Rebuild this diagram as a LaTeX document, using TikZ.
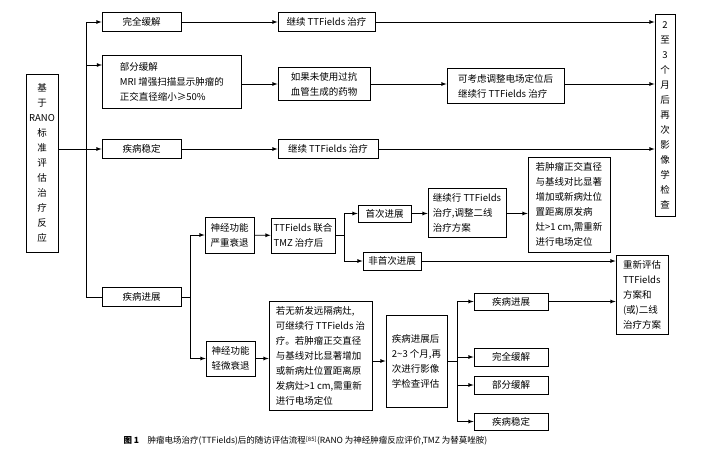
\documentclass[tikz,border=0pt]{standalone}
\usepackage{fontspec}
\setmainfont{Noto Sans CJK SC}
\begin{document}
\begin{tikzpicture}[x=1pt,y=-1pt,font=\fontsize{9.5}{15}\selectfont,
  box/.style={draw,thick,inner sep=2pt,align=left},
  arr/.style={thick,-latex}]
  \useasboundingbox (0,0) rectangle (720,458);
  \tikzstyle{line}=[thick]

  % left column
  \node[box, align=center, minimum width=32, minimum height=178] (root) at (42,163)
    {基\\于\\RANO\\标\\准\\评\\估\\治\\疗\\反\\应};
  \node[box, minimum width=79, minimum height=19, align=center] (cr) at (141.5,22) {完全缓解};
  \node[box, minimum width=139, minimum height=53, anchor=north west] (pr) at (102,55)
    {部分缓解\\MRI 增强扫描显示肿瘤的\\正交直径缩小≥50\%};
  \node[box, minimum width=79, minimum height=19, align=center] (sd) at (141.5,149) {疾病稳定};
  \node[box, minimum width=79, minimum height=19, align=center] (pd) at (141.5,297) {疾病进展};

  % upper rows
  \node[box, minimum width=97, minimum height=19] (cont1) at (326.5,22) {继续 TTFields 治疗};
  \node[box, minimum width=92, minimum height=33] (anti) at (324,84) {如果未使用过抗\\血管生成的药物};
  \node[box, minimum width=117, minimum height=35] (adj) at (505.5,86) {可考虑调整电场定位后\\继续行 TTFields 治疗};
  \node[box, minimum width=100, minimum height=19] (cont3) at (328,149) {继续 TTFields 治疗};
  \node[box, align=center, minimum width=20, minimum height=202] (recheck) at (665,115)
    {2\\至\\3\\个\\月\\后\\再\\次\\影\\像\\学\\检\\查};

  % progression branch
  \node[box, minimum width=49, minimum height=36] (severe) at (229.5,235) {神经功能\\严重衰退};
  \node[box, minimum width=64, minimum height=35] (tmz) at (303,235.5) {TTFields 联合\\TMZ 治疗后};
  \node[box, minimum width=53, minimum height=17, align=center] (first) at (384.5,213.5) {首次进展};
  \node[box, minimum width=58, minimum height=18, align=center] (nfirst) at (392,261) {非首次进展};
  \node[box, minimum width=78, minimum height=49] (line2) at (467,212.5) {继续行 TTFields\\治疗,调整二线\\治疗方案};
  \node[box, minimum width=82, minimum height=95] (loc1) at (569,204.5)
    {若肿瘤正交直径\\与基线对比显著\\增加或新病灶位\\置距离原发病\\灶>1 cm,需重新\\进行电场定位};
  \node[box, minimum width=52, minimum height=79] (reeval) at (642,294.5)
    {重新评估\\TTFields\\方案和\\(或)二线\\治疗方案};

  \node[box, minimum width=49, minimum height=35] (mild) at (230.5,358.5) {神经功能\\轻微衰退};
  \node[box, minimum width=103, minimum height=109] (noff) at (320.5,355.5)
    {若无新发远隔病灶,\\可继续行 TTFields 治\\疗。若肿瘤正交直径\\与基线对比显著增加\\或新病灶位置距离原\\发病灶>1 cm,需重新\\进行电场定位};
  \node[box, minimum width=61, minimum height=92] (after) at (416.5,361)
    {疾病进展后\\2\textasciitilde3 个月,再\\次进行影像\\学检查评估};
  \node[box, minimum width=74, minimum height=17, align=center] (pd2) at (511,301.5) {疾病进展};
  \node[box, minimum width=74, minimum height=18, align=center] (cr2) at (511,357) {完全缓解};
  \node[box, minimum width=74, minimum height=18, align=center] (pr2) at (511,385) {部分缓解};
  \node[box, minimum width=74, minimum height=17, align=center] (sd2) at (511,421.5) {疾病稳定};

  % trunk
  \coordinate (tr) at (86,149);
  \draw[arr] (root.east |- tr) -- (sd);
  \draw[arr] (tr) |- (cr);
  \draw[arr] (tr) |- (pr.west |- 0,65);
  \draw[line] (tr) |- (pd);
  \draw[arr] (cr) -- (cont1);
  \draw[arr] (pr.east |- anti) -- (anti);
  \draw[arr] (anti) -- (adj.west |- anti);
  \draw[arr] (sd) -- (cont3);
  \draw[arr] (cont1) -- (recheck.west |- cont1);
  \draw[arr] (adj.east |- anti) -- (recheck.west |- anti);
  \draw[arr] (cont3) -- (recheck.west |- cont3);

  % progression
  \coordinate (sp) at (190,297);
  \draw[line] (pd) -- (sp);
  \draw[arr] (sp) |- (severe);
  \draw[arr] (sp) |- (mild);
  \draw[arr] (severe) -- (tmz);
  \coordinate (sp2) at (344,235.5);
  \draw[line] (tmz) -- (sp2);
  \draw[arr] (sp2) |- (first);
  \draw[arr] (sp2) |- (nfirst);
  \draw[arr] (first) -- (line2.west |- first);
  \draw[arr] (line2.east |- first) -- (loc1.west |- first);
  \draw[arr] (nfirst) -- (reeval.west |- nfirst);
  \draw[arr] (mild) -- (noff.west |- mild);
  \draw[arr] (noff.east |- after) -- (after);
  \coordinate (sp3) at (457,361);
  \draw[line] (after) -- (sp3);
  \draw[arr] (sp3) |- (pd2);
  \draw[arr] (sp3) |- (cr2);
  \draw[arr] (sp3) |- (pr2);
  \draw[arr] (sp3) |- (sd2);
  \draw[arr] (pd2) -- (reeval.west |- pd2);

  % caption
  \node[anchor=west, font=\fontsize{8.5}{10}\selectfont] (cap) at (120,441)
    {\textbf{图 1}\quad 肿瘤电场治疗(TTFields)后的随访评估流程\textsuperscript{[85]}(RANO 为神经肿瘤反应评价,TMZ 为替莫唑胺)};
\end{tikzpicture}
\end{document}
